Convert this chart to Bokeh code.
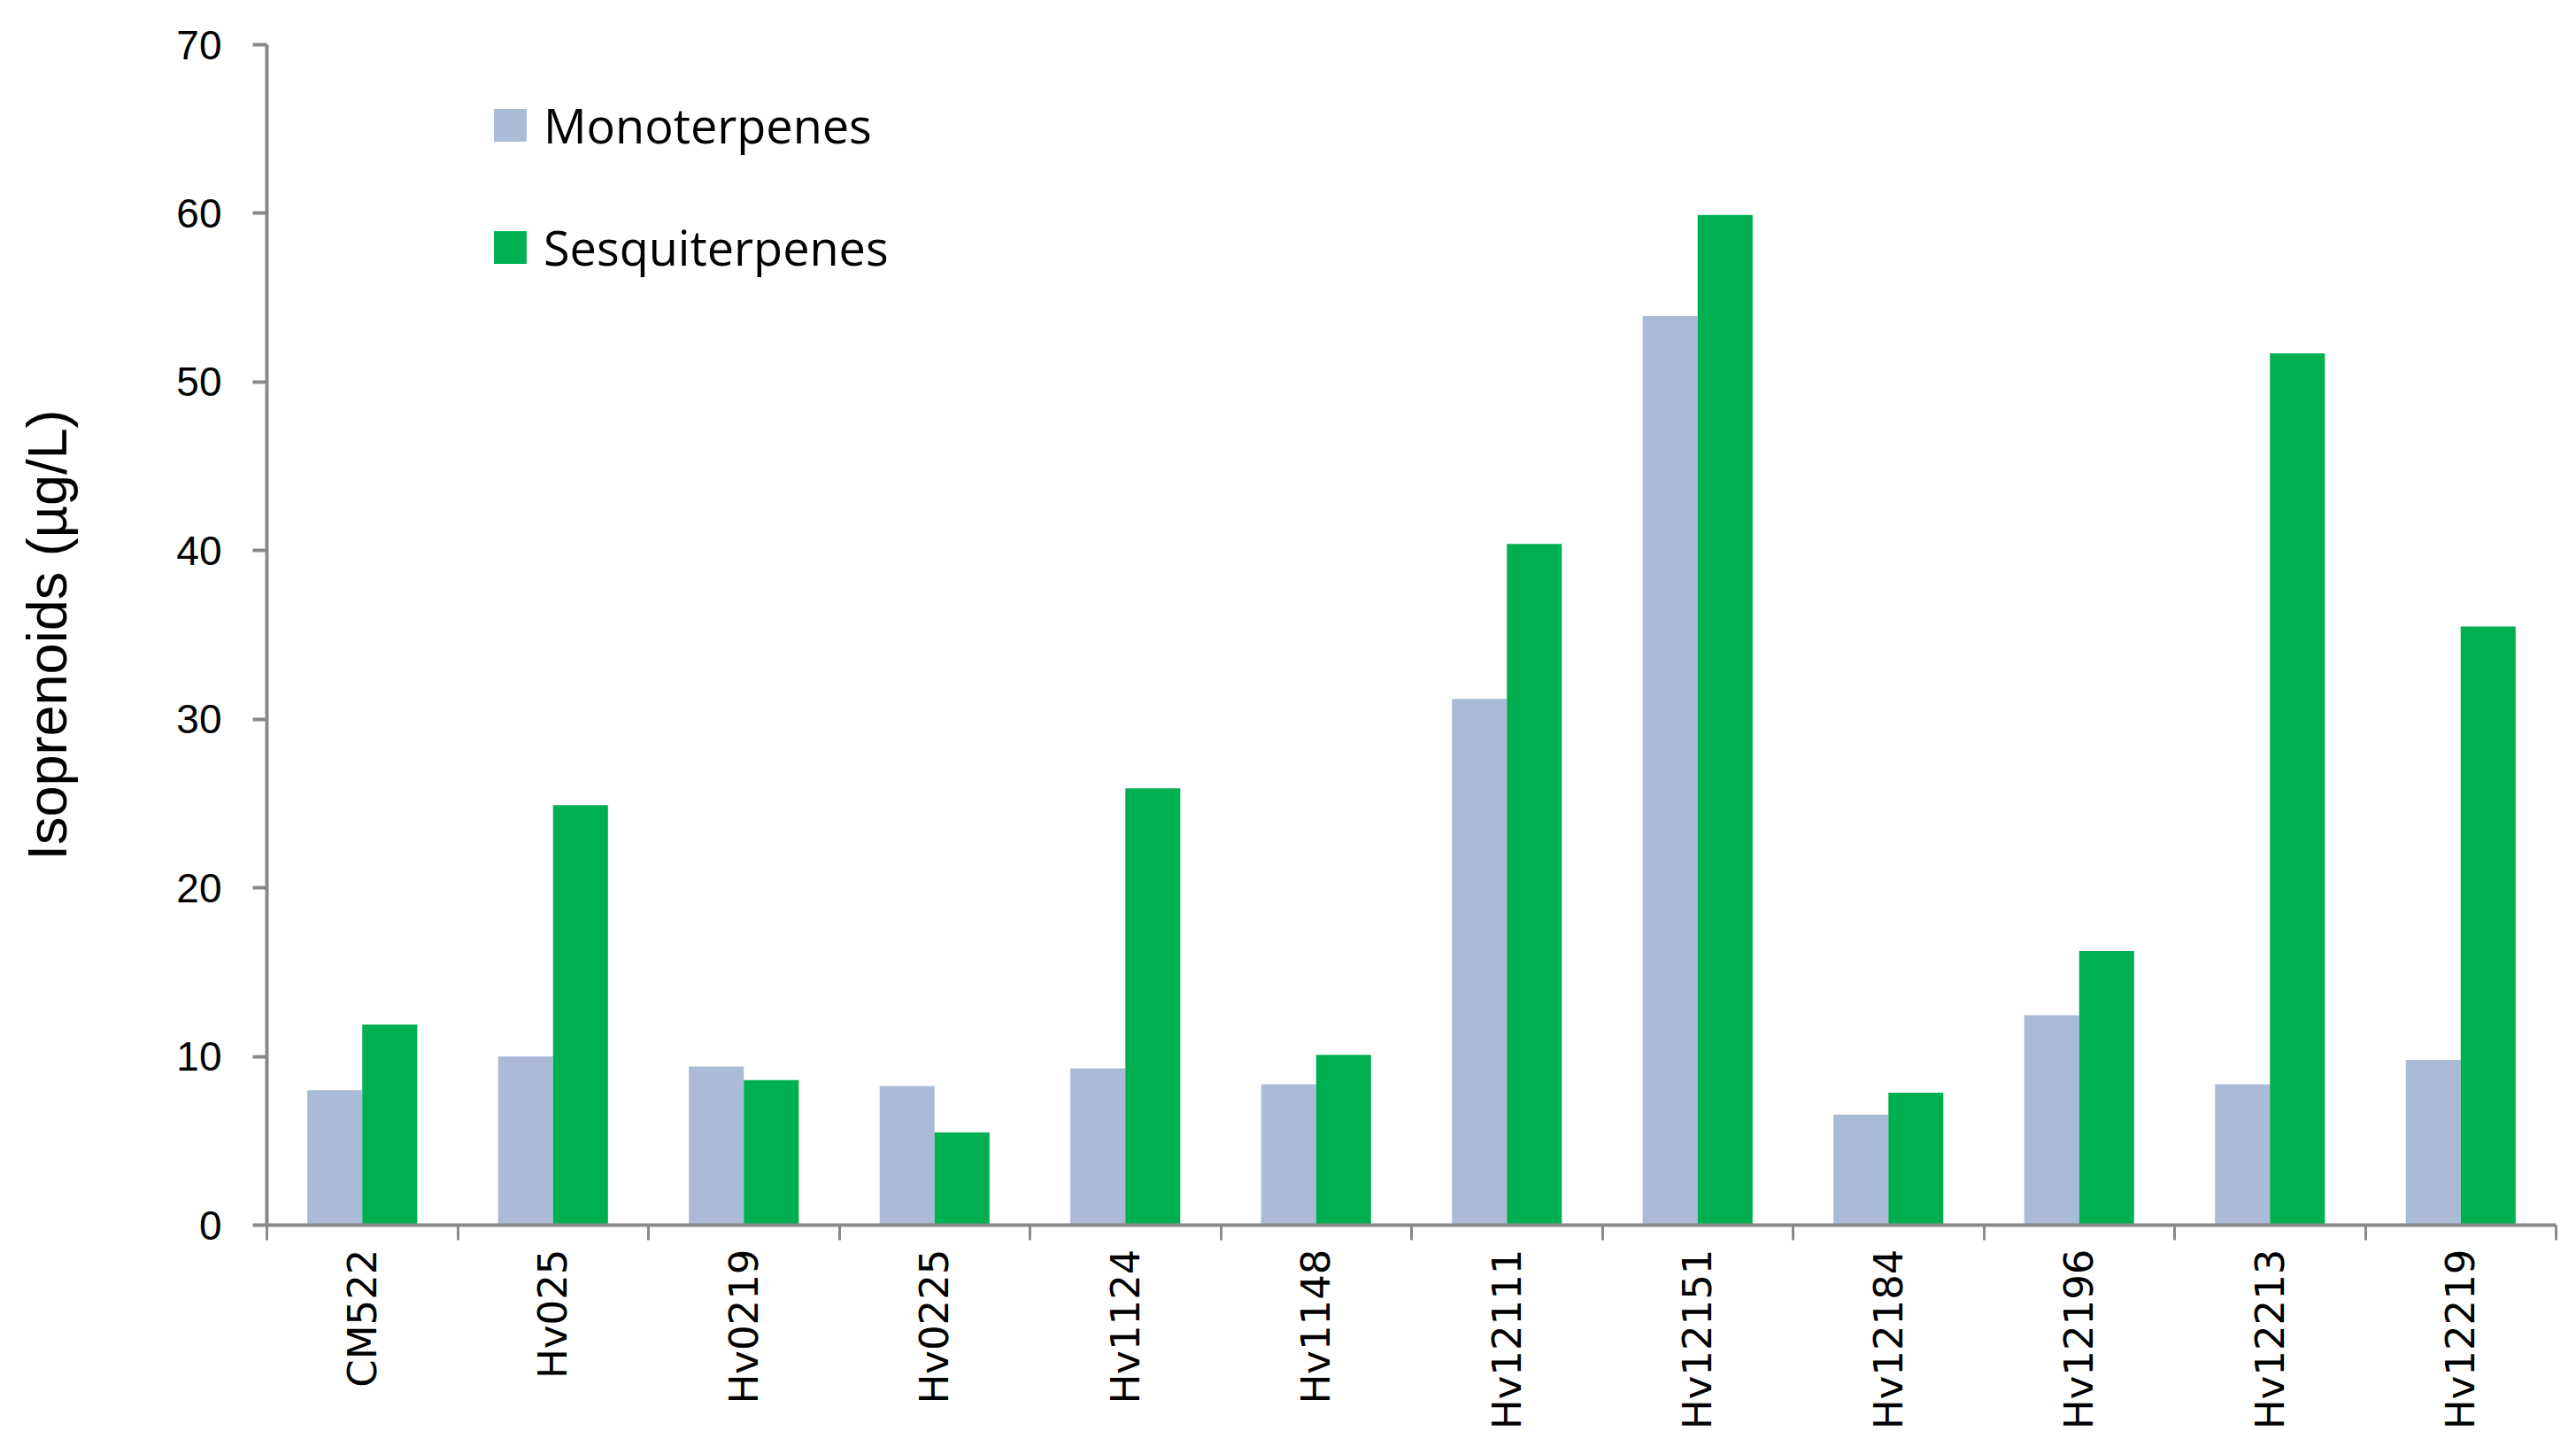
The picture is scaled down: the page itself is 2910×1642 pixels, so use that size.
import math
from bokeh.plotting import figure
from bokeh.models import Range1d, FixedTicker, Legend, LegendItem
from bokeh.embed import file_html
from bokeh.resources import INLINE

categories = ["CM522", "Hv025", "Hv0219", "Hv0225", "Hv1124", "Hv1148",
              "Hv12111", "Hv12151", "Hv12184", "Hv12196", "Hv12213", "Hv12219"]
monoterpenes = [8.0, 10.0, 9.4, 8.25, 9.3, 8.35, 31.2, 53.9, 6.55, 12.45, 8.35, 9.8]
sesquiterpenes = [11.9, 24.9, 8.6, 5.5, 25.9, 10.1, 40.4, 59.9, 7.85, 16.25, 51.7, 35.5]
y_ticks = [0, 10, 20, 30, 40, 50, 60, 70]

MONO_COLOR = "#aabad7"
SESQ_COLOR = "#00b050"
AXIS_COLOR = "#898989"

n = len(categories)
centers = [i + 0.5 for i in range(n)]
bar_w = 0.288
x_mono = [c - bar_w / 2 for c in centers]
x_sesq = [c + bar_w / 2 for c in centers]

p = figure(width=2902, height=1634,
           x_range=Range1d(0, n), y_range=Range1d(0, 70),
           output_backend="svg", toolbar_location=None,
           min_border_left=301, min_border_right=15,
           min_border_top=50, min_border_bottom=251)

r1 = p.vbar(x=x_mono, top=monoterpenes, width=bar_w, bottom=0,
            fill_color=MONO_COLOR, line_color=None)
r2 = p.vbar(x=x_sesq, top=sesquiterpenes, width=bar_w, bottom=0,
            fill_color=SESQ_COLOR, line_color=None)

p.xgrid.visible = False
p.ygrid.visible = False
p.outline_line_color = None
p.background_fill_color = "white"
p.border_fill_color = "white"

# x axis: labels at centers, ticks at category boundaries (minor ticks)
xa = p.xaxis[0]
xa.ticker = FixedTicker(ticks=centers, minor_ticks=list(range(n + 1)))
xa.major_label_overrides = {c: name for c, name in zip(centers, categories)}
xa.major_label_orientation = math.pi / 2
xa.major_tick_in = 0
xa.major_tick_out = 0
xa.minor_tick_in = 0
xa.minor_tick_out = 17
xa.minor_tick_line_color = AXIS_COLOR
xa.minor_tick_line_width = 3
xa.axis_line_color = AXIS_COLOR
xa.axis_line_width = 4
xa.major_label_standoff = 10
xa.major_label_text_font = "DejaVu Sans"
xa.major_label_text_font_size = "45px"
xa.major_label_text_color = "black"

ya = p.yaxis[0]
ya.ticker = FixedTicker(ticks=y_ticks, minor_ticks=[])
ya.major_tick_in = 0
ya.major_tick_out = 16
ya.major_tick_line_color = AXIS_COLOR
ya.major_tick_line_width = 4
ya.axis_line_color = AXIS_COLOR
ya.axis_line_width = 4
ya.major_label_standoff = 35
ya.major_label_text_font = "Liberation Sans"
ya.major_label_text_font_size = "46px"
ya.major_label_text_color = "black"
ya.axis_label = "Isoprenoids (µg/L)"
ya.axis_label_text_font = "Liberation Sans"
ya.axis_label_text_font_style = "normal"
ya.axis_label_text_font_size = "63px"
ya.axis_label_text_color = "black"
ya.axis_label_standoff = 108

legend = Legend(items=[LegendItem(label="Monoterpenes", renderers=[r1]),
                       LegendItem(label="Sesquiterpenes", renderers=[r2])],
                location=(252, 1067), orientation="vertical",
                glyph_width=46, glyph_height=46, label_standoff=15,
                label_height=70, spacing=64, padding=0, margin=0,
                label_text_font="Open Sans", label_text_font_size="54px",
                label_text_color="black",
                border_line_color=None, background_fill_alpha=0)
p.add_layout(legend)

open("out.html", "w").write(file_html(p, INLINE))
